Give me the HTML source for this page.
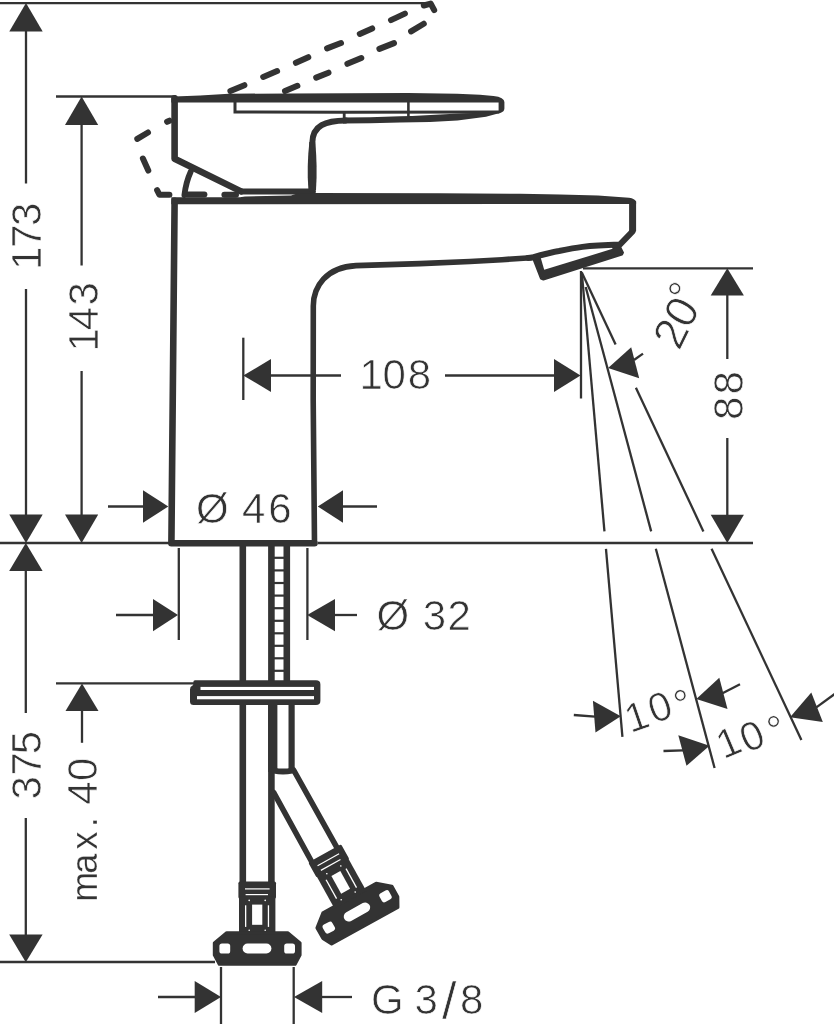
<!DOCTYPE html>
<html lang="en">
<head>
<meta charset="utf-8">
<title>Basin mixer dimension drawing</title>
<style>
  html, body { margin: 0; padding: 0; background: #ffffff; }
  body { width: 834px; height: 1024px; overflow: hidden; font-family: "Liberation Sans", sans-serif; }
  svg { display: block; position: absolute; left: 0; top: 0; }
  .thin { fill: none; stroke: #333333; stroke-width: 2.3; stroke-linecap: butt; }
  .ol { fill: none; stroke: #333333; stroke-width: 6.6; stroke-linejoin: round; stroke-linecap: round; }
  .ol5 { fill: none; stroke: #333333; stroke-width: 5.4; stroke-linejoin: round; stroke-linecap: round; }
  .ol4 { fill: none; stroke: #333333; stroke-width: 5; stroke-linejoin: round; stroke-linecap: round; }
  .dash { fill: none; stroke: #333333; stroke-width: 6; stroke-linecap: round; stroke-linejoin: round; }
  .fill { fill: #333333; stroke: none; }
  .ah { fill: #333333; stroke: none; }
  text { font-family: "Liberation Sans", sans-serif; font-size: 42px; fill: #333333; stroke: #ffffff; stroke-width: 0.7px; paint-order: fill stroke; }
</style>
</head>
<body>
<svg width="834" height="1024" viewBox="0 0 834 1024">
<rect x="0" y="0" width="834" height="1024" fill="#ffffff"/>

<!-- ===== thin reference / dimension lines ===== -->
<g class="thin" id="dimlines">
  <line x1="0" y1="3.2" x2="430" y2="3.2"/>
  <line x1="56" y1="96.5" x2="176" y2="96.5"/>
  <line x1="0" y1="543" x2="169" y2="543"/>
  <line x1="318" y1="543" x2="753" y2="543"/>
  <line x1="0" y1="962" x2="215" y2="962"/>
  <line x1="56" y1="683.4" x2="196" y2="683.4"/>
  <line x1="583" y1="268.3" x2="753" y2="268.3"/>
  <!-- 173 -->
  <line x1="26" y1="30" x2="26" y2="183.5"/>
  <line x1="26" y1="289" x2="26" y2="516"/>
  <!-- 375 -->
  <line x1="25.8" y1="570" x2="25.8" y2="713"/>
  <line x1="25.8" y1="818" x2="25.8" y2="935"/>
  <!-- 143 -->
  <line x1="81.6" y1="124" x2="81.6" y2="265.5"/>
  <line x1="81.6" y1="371" x2="81.6" y2="516"/>
  <!-- max 40 -->
  <line x1="82" y1="710" x2="82" y2="742.8"/>
  <!-- 108 -->
  <line x1="243.3" y1="337.7" x2="243.3" y2="400"/>
  <line x1="270" y1="375.5" x2="341" y2="375.5"/>
  <line x1="445" y1="375.5" x2="555" y2="375.5"/>
  <!-- dia 46 -->
  <line x1="108" y1="506.5" x2="144" y2="506.5"/>
  <line x1="342" y1="506.5" x2="377" y2="506.5"/>
  <!-- dia 32 -->
  <line x1="178.8" y1="548" x2="178.8" y2="640"/>
  <line x1="307.4" y1="548" x2="307.4" y2="640"/>
  <line x1="116" y1="615" x2="154" y2="615"/>
  <line x1="334" y1="615" x2="357" y2="615"/>
  <!-- G 3/8 -->
  <line x1="221" y1="967" x2="221" y2="1024"/>
  <line x1="293.7" y1="967" x2="293.7" y2="1024"/>
  <line x1="158" y1="997" x2="196" y2="997"/>
  <line x1="321" y1="997" x2="352" y2="997"/>
  <!-- 88 -->
  <line x1="727.3" y1="294" x2="727.3" y2="359"/>
  <line x1="727.3" y1="438" x2="727.3" y2="516"/>
  <!-- water jet lines -->
  <line x1="581" y1="271" x2="581" y2="398.5"/>
  <line x1="581.8" y1="272.5" x2="604.45" y2="531.4"/>
  <line x1="605.97" y1="548.8" x2="622.43" y2="736.9"/>
  <line x1="585.7" y1="287" x2="651.17" y2="531.4"/>
  <line x1="655.83" y1="548.8" x2="714.57" y2="768"/>
  <line x1="581.8" y1="272.5" x2="615.6" y2="344.5"/>
  <line x1="635.9" y1="387.7" x2="703.4" y2="531.4"/>
  <line x1="711.55" y1="548.8" x2="801.4" y2="740"/>
  <!-- angle arrow tails -->
  <line x1="634" y1="360" x2="643" y2="353.6"/>
  <line x1="573.8" y1="715" x2="595" y2="716.6"/>
  <line x1="722" y1="693.6" x2="740" y2="684.3"/>
  <line x1="663.5" y1="751" x2="683" y2="750.4"/>
  <line x1="816" y1="707.6" x2="836" y2="693"/>
</g>

<!-- ===== arrow heads ===== -->
<g class="ah" id="arrows">
  <!-- 173 -->
  <polygon points="26,3 9.3,31.5 42.7,31.5"/>
  <polygon points="26,543 9.3,514.5 42.7,514.5"/>
  <!-- 375 -->
  <polygon points="25.8,543 9.2,571 42.6,571"/>
  <polygon points="25.8,962.2 9.2,934.4 42.6,934.4"/>
  <!-- 143 -->
  <polygon points="81.6,96.5 65,125 98.2,125"/>
  <polygon points="81.6,543 65,514.5 98.2,514.5"/>
  <!-- max 40 -->
  <polygon points="82,683.4 65.5,711 98.5,711"/>
  <!-- 108 -->
  <polygon points="243.3,375.5 271,359 271,392"/>
  <polygon points="580.5,375.5 554,359 554,392"/>
  <!-- dia 46 -->
  <polygon points="168.3,506.5 143,490.3 143,522.7"/>
  <polygon points="317.8,506.5 343,490.3 343,522.7"/>
  <!-- dia 32 -->
  <polygon points="178,615 153,599 153,631.3"/>
  <polygon points="307.2,615 335,599 335,631.3"/>
  <!-- G 3/8 -->
  <polygon points="221,997 194.7,981 194.7,1013"/>
  <polygon points="294,997 322.2,981 322.2,1013"/>
  <!-- 88 -->
  <polygon points="727.3,268.3 710.7,295.4 743.9,295.4"/>
  <polygon points="727.3,543 710.7,514.7 743.9,514.7"/>
  <!-- 20 deg -->
  <polygon points="608.1,367.9 631.2,347.2 639.2,378.3"/>
  <!-- 10 deg (1) -->
  <polygon points="620.8,716.2 592.9,700.8 595.5,732.6"/>
  <polygon points="696.3,699.1 719.3,677.8 727.5,709"/>
  <!-- 10 deg (2) -->
  <polygon points="709.5,745.8 678.3,735.3 686.5,765.8"/>
  <polygon points="790,717.2 811.3,692.6 822.8,722.1"/>
</g>

<!-- ===== lifted handle (dashed) ===== -->
<g class="dash" id="dashed">
  <path d="M230.4,91.0 L244.4,85.2"/>
  <path d="M263.2,76.9 L277.1,71.1"/>
  <path d="M295.9,62.8 L308.3,57.2"/>
  <path d="M327.1,48.4 L341.0,43.0"/>
  <path d="M359.8,33.9 L372.2,28.4"/>
  <path d="M391.0,20.1 L404.9,13.6"/>
  <path d="M423.8,5.5 L430.7,3.6 L434.2,10.2"/>
  <path d="M285.0,91.0 L297.4,85.8"/>
  <path d="M316.2,77.6 L328.5,72.7"/>
  <path d="M347.4,63.8 L361.3,58.0"/>
  <path d="M379.4,48.9 L394.0,43.1"/>
  <path d="M411.1,31.4 L423.8,23.7"/>
  <path d="M137.3,138.9 L148.0,132.5"/>
  <path d="M167.1,121.8 L169.4,120.7"/>
  <path d="M142.9,158.6 L148.3,170.6"/>
  <path d="M157.1,190.1 L159.4,194.8 L169.4,194.8"/>
  <path d="M187.4,194.6 L204.4,194.6"/>
  <path d="M224.4,194.8 L236,194.8"/>
</g>

<!-- ===== handle ===== -->
<g id="handle">
  <path class="ol" d="M174.6,98.3 L174.6,158.8 L241,191.4"/>
  <path class="ol5" d="M241,191.5 L313,191.5" style="stroke-width:5.8"/>
  <!-- top plate -->
  <path class="fill" d="M171.3,98.6 Q171.3,96.6 174,96.4 L200,95.5 L229,93.8 L290,93.4 L408,93.1 L457,93.8 L480,94.8 L493.5,95.9 Q504.4,97.2 504.4,102 L504.4,108.6 Q504.2,112 500.7,112.7 L498.6,113.2 L498.6,102.4 L171.3,102.4 Z"/>
  <path class="thin" d="M235,102 L235,112 L345,112.3 L499.4,111.9" style="stroke-width:3"/>
  <path class="thin" d="M408.4,102 L408.4,118" style="stroke-width:2.6"/>
  <path class="thin" d="M344.2,111 L344.2,119" style="stroke-width:2.8"/>
  <path class="fill" d="M343,117.4 L370,117.2 L400,116.2 L412,115.9 L440,114.4 L464,113.2 L499,112.2 L501.6,112.4 L486,116.8 L457.5,120.4 L430,121.9 L400,122.6 L370,123.3 L343,123.4 Z"/>
  <!-- neck -->
  <path class="ol" d="M346,120.4 C326,120.6 312.3,125 312.3,143 L312.3,190" style="stroke-width:6"/>
  <path class="fill" d="M309.4,142 Q306.6,166 308.4,190 L316,190 Q317.6,166 315.2,142 Z"/>
  <path class="ol" d="M190.8,171.5 Q186,182 184.4,195" style="stroke-width:5.8"/>
</g>

<!-- ===== body / spout ===== -->
<g id="body">
  <!-- top band -->
  <path class="fill" d="M171.3,197.3 L240,197.3 L245,196.4 L291,195.5 L297,193.5 L316,192.9 L440,193.2 L520,193.8 L560,194.4 L598,195.5 L629,197.7 Q635,198.6 636.1,201.7 L636.1,204 L171.3,204.2 Z"/>
  <path class="ol" d="M174.6,200.7 L171.4,543.2 L314.5,543.2" />
  <path class="ol" d="M314.5,543.2 L313.2,400 L313.3,306 C313.3,287 326,267 356,265.6 L420,263.6 L470,261.5 L502,259.7 L531,257.7" style="stroke-width:5.6"/>
  <!-- aerator -->
  <path fill="#333333" stroke="#333333" stroke-width="2" stroke-linejoin="round" d="M533.6,259.6 L541,278.6 L543.4,279.6 L622,254.6 L623,252.6 L619.6,246 Z"/>
  <path fill="#ffffff" d="M540.8,258 L544.2,269.8 L612.6,248.8 L610,244 L560,248 Z"/>
  <!-- underside of spout, chamfer, front face -->
  <path class="ol" d="M528,257.9 L532,257.6 C542,254.8 551,252.4 559,251 C567,249.4 574,248 582.4,246.9 C596,245.4 608,245 619.8,244.6 L632.6,231.3" style="stroke-width:6"/>
  <path class="ol" d="M632.6,231.3 L632.6,201" style="stroke-width:7;stroke-linecap:butt"/>
</g>

<!-- ===== pipes below deck ===== -->
<g id="pipes">
  <line class="ol" x1="242.8" y1="545" x2="242.8" y2="884" style="stroke-linecap:butt"/>
  <line class="ol" x1="271.4" y1="545" x2="271.4" y2="884" style="stroke-linecap:butt"/>
  <line class="ol" x1="286.8" y1="545" x2="286.8" y2="682" style="stroke-linecap:butt"/>
  <g class="thin" style="stroke-width:2.2">
    <line x1="271" y1="557.8" x2="287" y2="557.8"/>
    <line x1="271" y1="570.4" x2="287" y2="570.4"/>
    <line x1="271" y1="583" x2="287" y2="583"/>
    <line x1="271" y1="595.6" x2="287" y2="595.6"/>
    <line x1="271" y1="608.2" x2="287" y2="608.2"/>
    <line x1="271" y1="620.8" x2="287" y2="620.8"/>
    <line x1="271" y1="633.3" x2="287" y2="633.3"/>
    <line x1="271" y1="645.8" x2="287" y2="645.8"/>
    <line x1="271" y1="658.3" x2="287" y2="658.3"/>
    <line x1="271" y1="670.8" x2="287" y2="670.8"/>
  </g>
  <!-- mounting plate -->
  <path class="fill" d="M195,680.3 L316,680.3 Q320.4,680.3 320.4,684.5 L320.4,700.8 Q320.4,705.1 316,705.1 L193.6,705.1 Q190,705.1 190,701.6 L190,689.4 Q190,686.6 192.2,685.8 Q193.4,685.3 193.4,683.6 L193.4,681.8 Q193.4,680.3 195,680.3 Z"/>
  <rect x="200.5" y="686.9" width="113.5" height="3.1" fill="#ffffff"/>
  <rect x="197" y="696.1" width="117" height="3.2" fill="#ffffff"/>
  <!-- second pipe below plate -->
  <line class="ol" x1="272.8" y1="705" x2="272.8" y2="772" style="stroke-width:9.2;stroke-linecap:butt"/>
  <line class="ol5" x1="291.6" y1="705" x2="291.6" y2="770" style="stroke-width:6.2;stroke-linecap:butt"/>
  <path class="ol4" d="M274,770.6 Q283,772.6 292,770.6" style="stroke-width:6"/>
  <!-- angled hose -->
  <path class="ol5" d="M293.6,770 L338.2,849.8" style="stroke-width:5.6"/>
  <path class="ol5" d="M273.6,792.4 L312.4,863" style="stroke-width:5.6"/>
</g>

<!-- ===== hose end fittings ===== -->
<g id="fitting-straight" transform="translate(257.2,881.6)">
    <!-- local coords: axis x=0, y=0 at top of crimp sleeve -->
    <rect x="-18.8" y="0" width="37.6" height="17" rx="1.6" fill="#333333"/>
    <rect x="-18.2" y="15" width="36.4" height="36" fill="#333333"/>
    <rect x="-12.2" y="6.7" width="24.6" height="1.2" fill="#ffffff"/>
    <rect x="-11.6" y="12.4" width="22.4" height="1.2" fill="#ffffff"/>
    <rect x="-12.2" y="23.7" width="1.3" height="21.6" fill="#ffffff"/>
    <rect x="10.6" y="23.7" width="1.3" height="21.6" fill="#ffffff"/>
    <rect x="-5.1" y="23" width="10.2" height="20.2" fill="#ffffff"/>
    <circle cx="-8" cy="18.8" r="0.8" fill="#ffffff"/>
    <circle cx="8" cy="18.8" r="0.8" fill="#ffffff"/>
    <circle cx="-8" cy="48.6" r="0.8" fill="#ffffff"/>
    <circle cx="8" cy="48.6" r="0.8" fill="#ffffff"/>
    <!-- nut -->
    <path fill="#333333" stroke="#333333" stroke-width="3.4" stroke-linejoin="round" d="M-30.4,51.3 L30.4,51.3 L42.7,61.4 L42.7,73.4 L37.8,82.5 L-37.8,82.5 L-42.7,73.4 L-42.7,61.4 Z"/>
    <rect x="-37.8" y="61.9" width="10.8" height="10" rx="2.6" fill="#ffffff"/>
    <rect x="27" y="61.9" width="10.8" height="10" rx="2.6" fill="#ffffff"/>
    <rect x="-14.6" y="61.9" width="28.8" height="10" rx="5" fill="#ffffff"/>
  </g>
<g id="fitting-angled" transform="translate(324.7,853.4) rotate(-29)">
    <!-- local coords: axis x=0, y=0 at top of crimp sleeve -->
    <rect x="-18.8" y="0" width="37.6" height="17" rx="1.6" fill="#333333"/>
    <rect x="-18.2" y="15" width="36.4" height="36" fill="#333333"/>
    <rect x="-12.2" y="6.7" width="24.6" height="1.2" fill="#ffffff"/>
    <rect x="-11.6" y="12.4" width="22.4" height="1.2" fill="#ffffff"/>
    <rect x="-12.2" y="23.7" width="1.3" height="21.6" fill="#ffffff"/>
    <rect x="10.6" y="23.7" width="1.3" height="21.6" fill="#ffffff"/>
    <rect x="-5.1" y="23" width="10.2" height="20.2" fill="#ffffff"/>
    <circle cx="-8" cy="18.8" r="0.8" fill="#ffffff"/>
    <circle cx="8" cy="18.8" r="0.8" fill="#ffffff"/>
    <circle cx="-8" cy="48.6" r="0.8" fill="#ffffff"/>
    <circle cx="8" cy="48.6" r="0.8" fill="#ffffff"/>
    <!-- nut -->
    <path fill="#333333" stroke="#333333" stroke-width="3.4" stroke-linejoin="round" d="M-30.4,51.3 L30.4,51.3 L42.7,61.4 L42.7,73.4 L37.8,82.5 L-37.8,82.5 L-42.7,73.4 L-42.7,61.4 Z"/>
    <rect x="-37.8" y="61.9" width="10.8" height="10" rx="2.6" fill="#ffffff"/>
    <rect x="27" y="61.9" width="10.8" height="10" rx="2.6" fill="#ffffff"/>
    <rect x="-14.6" y="61.9" width="28.8" height="10" rx="5" fill="#ffffff"/>
  </g>

<!-- ===== dimension texts ===== -->
<g id="labels" style="opacity:0.999">
  <text transform="translate(41.2,0) rotate(-90)" x="-269.9 -247.9 -225.9" y="0">173</text>
  <text transform="translate(97.5,0) rotate(-90)" x="-351.5 -330.3 -305.4" y="0">143</text>
  <text transform="translate(743.4,0) rotate(-90)" x="-420.1 -394.6" y="0">88</text>
  <text transform="translate(41.3,0) rotate(-90)" x="-799.4 -775.7 -754.2" y="0">375</text>
  <text transform="translate(97.3,0) rotate(-90)" y="0"><tspan x="-901.7 -873.7 -849.5 -827.3" style="font-size:36px;stroke-width:0.25px">max.</tspan><tspan x="-815 -804.8 -781.0"> 40</tspan></text>
  <text x="359.5 382.6 407.8" y="388.9">108</text>
  <text x="195.9 230 242.1 268.2" y="522.6">Ø 46</text>
  <text x="376.6 411 422.8 447.5" y="630.3">Ø 32</text>
  <text x="371.0 404 414.6" y="1013.5">G 3<tspan x="442.0" y="1019.3" style="font-size:52px">/</tspan><tspan x="460.1" y="1013.5">8</tspan></text>
  <text transform="translate(679.3,351.6) rotate(-64)" style="font-size:45px">2</text>
  <text transform="translate(688.5,330.3) rotate(-60)" style="font-size:45px">0</text>
  <text transform="translate(691.1,307.5) rotate(-60)" style="font-size:42px">°</text>
  <text transform="translate(630.5,733.2) rotate(-19)" style="font-size:40.5px">1</text>
  <text transform="translate(653.8,723.8) rotate(-19)" style="font-size:40.5px">0</text>
  <text transform="translate(680.1,719.8) rotate(-19)" style="font-size:41px">°</text>
  <text transform="translate(723.4,759.6) rotate(-23)" style="font-size:40.5px">1</text>
  <text transform="translate(747.1,753.3) rotate(-23)" style="font-size:40.5px">0</text>
  <text transform="translate(775.1,745.7) rotate(-23)" style="font-size:41px">°</text>
</g>
</svg>
</body>
</html>
